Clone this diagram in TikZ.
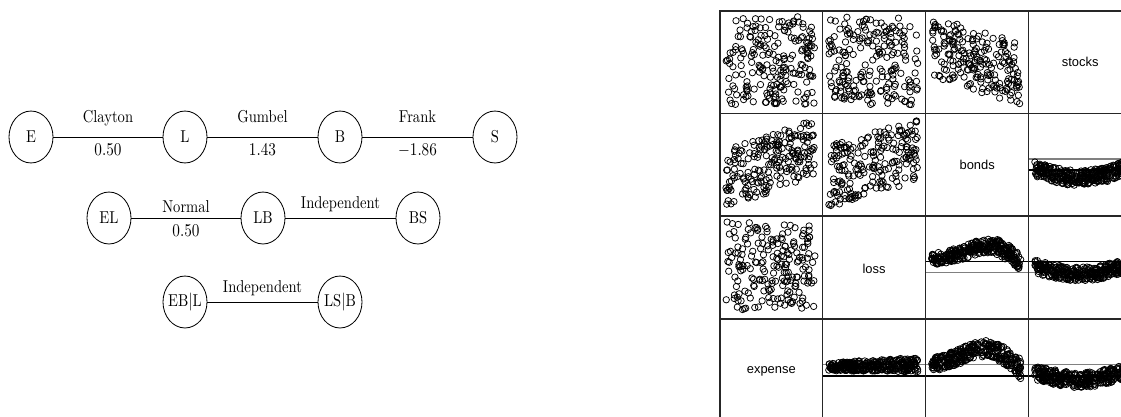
\documentclass[tikz,border=0pt]{standalone}
\usepackage{fontspec}
\newfontfamily\plotfont{Liberation Sans}

\begin{document}
\begin{tikzpicture}[x=0.72pt, y=-0.72pt,
    var/.style={circle, draw, line width=0.6pt, minimum size=31.7pt, inner sep=0pt, yscale=1.18,
      font=\fontsize{10.5}{12.6}\selectfont},
    lbl/.style={inner sep=0pt, yscale=1.18, font=\fontsize{10.5}{12.6}\selectfont},
    obs/.style={draw, line width=0.55pt},
    panel/.style={draw=black!85, line width=0.8pt},
    refgray/.style={draw=black!50, line width=1.1pt},
    refblack/.style={draw=black, line width=0.8pt},
    varname/.style={font=\plotfont\fontsize{9.3}{11}\selectfont},
  ]
  \path[use as bounding box, clip] (0,0) rectangle (1121,417);

  % vine trees
  \node[var] (E) at (31,137) {E};
  \node[var] (L) at (185,137) {L};
  \node[var] (B) at (340,137) {B};
  \node[var] (S) at (495,137) {S};
  \node[var] (EL) at (109,218) {EL};
  \node[var] (LB) at (263,218) {LB};
  \node[var] (BS) at (418,218) {BS};
  \node[var] (EBL) at (185,302) {EB$|$L};
  \node[var] (LSB) at (340,302) {LS$|$B};
  \draw[line width=0.6pt] (E) -- (L) node[midway, lbl, anchor=base, yshift=8.6pt] {Clayton}
    node[midway, lbl, anchor=north, yshift=-4.1pt] {$0.50$};
  \draw[line width=0.6pt] (L) -- (B) node[midway, lbl, anchor=base, yshift=8.6pt] {Gumbel}
    node[midway, lbl, anchor=north, yshift=-4.1pt] {$1.43$};
  \draw[line width=0.6pt] (B) -- (S) node[midway, lbl, anchor=base, yshift=8.6pt] {Frank}
    node[midway, lbl, anchor=north, yshift=-4.1pt] {$-1.86$};
  \draw[line width=0.6pt] (EL) -- (LB) node[midway, lbl, anchor=base, yshift=3.6pt] {Normal}
    node[midway, lbl, anchor=north, yshift=-4.1pt] {$0.50$};
  \draw[line width=0.6pt] (LB) -- (BS) node[midway, lbl, anchor=base, yshift=5.8pt] {Independent};
  \draw[line width=0.6pt] (EBL) -- (LSB) node[midway, lbl, anchor=base, yshift=5.5pt] {Independent};

  % pairs plot: reference lines
  \draw[refgray] (1028.7,159) -- (1121,159);
  \draw[refblack] (1028.7,170) -- (1121,170);
  \draw[refblack] (925.7,261.7) -- (1121,261.7);
  \draw[refgray] (925.7,272.7) -- (1121,272.7);
  \draw[refgray] (822.7,364.7) -- (1121,364.7);
  \draw[refblack] (822.7,376) -- (1121,376);

  % pairs plot: scatter panels
  \pgfmathsetseed{4217}
  \foreach \px/\py/\ca/\cb/\cc in {720/10.7/0/0/1, 822.7/10.7/0/0/1, 925.7/10.7/0/0.3/0.7,
      720/113.3/0.35/-0.35/0.65, 822.7/113.3/0.3/-0.3/0.7, 720/216/0/0/1}{
    \foreach \i in {1,...,200}{
      \pgfmathsetmacro\uu{rnd}
      \pgfmathsetmacro\vv{\ca+\cb*\uu+\cc*rnd}
      \draw[obs] (\px+6+\uu*89, \py+6+\vv*88) circle[radius=3.2];
    }
  }

  % pairs plot: band panels
  \foreach \px/\yb/\amp/\frq/\pw/\wid/\g in {1028.7/169/9/180/1/15/0, 925.7/259/-13/200/1.8/12/0.4,
      1028.7/267/7/180/1/14/0, 822.7/367/-2/90/1/8/0.8, 925.7/364/-15/200/1.6/13/0.5,
      1028.7/372/8/180/1/15/0}{
    \foreach \i in {1,...,300}{
      \pgfmathsetmacro\tt{rnd}
      \pgfmathsetmacro\yy{\yb+\amp*sin(\frq*(\tt^\pw))+\wid*(rnd-0.5)*(1+\g*\tt)}
      \draw[obs] (\px+6+\tt*89, \yy) circle[radius=3.2];
    }
  }

  % pairs plot: panel frames
  \draw[panel, line width=1.3pt] (720,417) -- (720,10.7) -- (1121,10.7);
  \foreach \gx in {822.7, 925.7, 1028.7}{
    \draw[panel] (\gx,10.7) -- (\gx,417);
  }
  \foreach \gy in {113.3, 216, 319}{
    \draw[panel] (720,\gy) -- (1121,\gy);
  }

  % pairs plot: variable names on the diagonal
  \node[varname] (nstocks) at (1080.2,62) {stocks};
  \node[varname] (nbonds) at (977.2,165) {bonds};
  \node[varname] (nloss) at (874,268.5) {loss};
  \node[varname] (nexpense) at (771.3,371.5) {expense};
\end{tikzpicture}
\end{document}
